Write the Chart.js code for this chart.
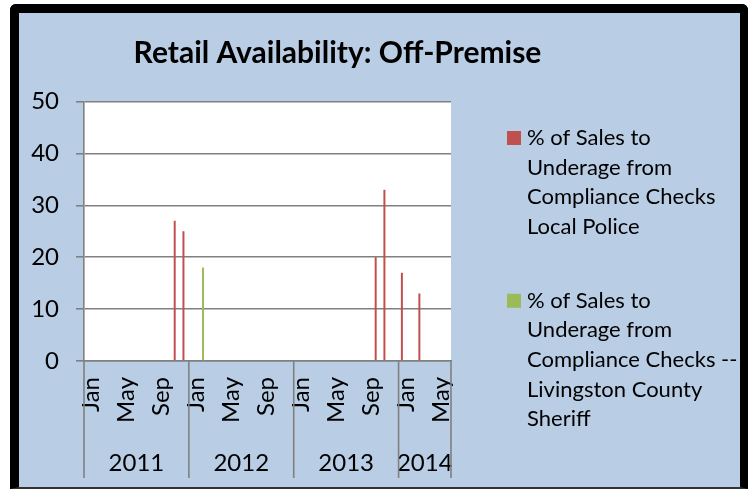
<!DOCTYPE html>
<html>
<head>
<meta charset="utf-8">
<script src="https://cdn.jsdelivr.net/npm/chart.js@4.4.0/dist/chart.umd.min.js"></script>
<style>
html,body{margin:0;padding:0;background:#fff;overflow:hidden;width:752px;height:489px;}
#frame{position:absolute;left:10px;top:4px;width:721px;height:474px;background:#b9cde5;
  border:9px solid #000;border-right-width:8px;border-bottom:2px solid #333;border-radius:6px 6px 0 0;}
#chart{position:absolute;left:0;top:0;}
</style>
</head>
<body>
<div id="frame"></div>
<canvas id="chart" width="752" height="489"></canvas>
<script>
const years = ['2011', '2012', '2013', '2014'];
const monthsPerYear = [12, 12, 12, 6];
const monthNames = ['Jan','Feb','Mar','Apr','May','Jun','Jul','Aug','Sep','Oct','Nov','Dec'];
const shownMonths = ['Jan', 'May', 'Sep'];
const yTicks = [0, 10, 20, 30, 40, 50];

// % of sales to underage, one value per month (null = no check)
const localPolice = [
  null,null,null,null,null,null,null,null,null,null,27,25,   // 2011
  null,null,null,null,null,null,null,null,null,null,null,null, // 2012
  null,null,null,null,null,null,null,null,null,20,33,null,   // 2013
  17,null,13,null,null,null                                  // 2014
];
const countySheriff = [
  null,null,null,null,null,null,null,null,null,null,null,null,
  null,18,null,null,null,null,null,null,null,null,null,null,
  null,null,null,null,null,null,null,null,null,null,null,null,
  null,null,null,null,null,null
];
const seriesNames = [
  ['% of Sales to', 'Underage from', 'Compliance Checks', 'Local Police'],
  ['% of Sales to', 'Underage from', 'Compliance Checks --', 'Livingston County', 'Sheriff']
];
const seriesColors = ['#c0504d', '#9bbb59'];
const titleText = 'Retail Availability: Off-Premise';

const labels = [];
years.forEach((y, i) => {
  for (let m = 0; m < monthsPerYear[i]; m++) labels.push(monthNames[m] + ' ' + y);
});

const FONT = 'Lato';
const GRID = '#808080';

const plotBg = {
  id: 'plotBg',
  beforeDraw(chart) {
    const {ctx, chartArea: a} = chart;
    ctx.save();
    ctx.fillStyle = '#fff';
    ctx.fillRect(a.left, a.top, a.right - a.left, a.bottom - a.top);
    ctx.restore();
  }
};

const titleDraw = {
  id: 'titleDraw',
  afterDraw(chart) {
    const ctx = chart.ctx;
    ctx.save();
    ctx.font = 'bold 30px ' + FONT;
    ctx.fillStyle = '#000';
    ctx.textAlign = 'center';
    ctx.textBaseline = 'alphabetic';
    ctx.fillText(titleText, 337.5, 63);
    ctx.restore();
  }
};

const legendDraw = {
  id: 'legendDraw',
  afterDraw(chart) {
    const ctx = chart.ctx;
    const lineH = 29.6;
    let y = 138;
    ctx.save();
    ctx.font = '22px ' + FONT;
    ctx.textBaseline = 'middle';
    chart.data.datasets.forEach((ds, i) => {
      ctx.fillStyle = ds.backgroundColor;
      ctx.fillRect(507, y - 7, 14, 14);
      ctx.fillStyle = '#000';
      seriesNames[i].forEach((ln, k) => ctx.fillText(ln, 527, y + k * lineH));
      y += (seriesNames[i].length + 1.5) * lineH;
    });
    ctx.restore();
  }
};

const yearGroups = {
  id: 'yearGroups',
  afterDraw(chart) {
    const {ctx, chartArea: a} = chart;
    const xs = chart.scales.x;
    const half = (xs.getPixelForValue(1) - xs.getPixelForValue(0)) / 2;
    ctx.save();
    ctx.strokeStyle = GRID;
    ctx.lineWidth = 1.6;
    ctx.font = '24px ' + FONT;
    ctx.fillStyle = '#000';
    ctx.textAlign = 'center';
    ctx.textBaseline = 'middle';
    let start = 0;
    const edges = [a.left];
    years.forEach((y, i) => {
      const end = start + monthsPerYear[i] - 1;
      const x0 = xs.getPixelForValue(start) - half;
      const x1 = xs.getPixelForValue(end) + half;
      edges.push(x1);
      ctx.fillText(y, (x0 + x1) / 2, 463);
      start = end + 1;
    });
    edges.forEach(x => {
      ctx.beginPath();
      ctx.moveTo(x, a.bottom);
      ctx.lineTo(x, 478);
      ctx.stroke();
    });
    ctx.restore();
  }
};

new Chart(document.getElementById('chart'), {
  type: 'bar',
  data: {
    labels: labels,
    datasets: [
      {label: seriesNames[0].join(' '), data: localPolice, backgroundColor: seriesColors[0]},
      {label: seriesNames[1].join(' '), data: countySheriff, backgroundColor: seriesColors[1]}
    ]
  },
  options: {
    responsive: false,
    animation: false,
    devicePixelRatio: 1,
    categoryPercentage: 0.48,
    barPercentage: 0.95,
    layout: {padding: {left: 0, top: 101.5, right: 301, bottom: 0}},
    plugins: {legend: {display: false}, title: {display: false}, tooltip: {enabled: false}},
    scales: {
      x: {
        grid: {display: false, drawTicks: false},
        border: {display: true, color: GRID, width: 1.6},
        ticks: {
          autoSkip: false, maxRotation: 90, minRotation: 90, padding: 16, labelOffset: 3,
          color: '#000', font: {family: FONT, size: 24},
          callback: function (v) {
            const m = this.getLabelForValue(v).split(' ')[0];
            return shownMonths.includes(m) ? m : '';
          }
        },
        afterFit(s) { s.height = 128; }
      },
      y: {
        min: yTicks[0], max: yTicks[yTicks.length - 1],
        afterBuildTicks(s) { s.ticks = yTicks.map(v => ({value: v})); },
        grid: {color: GRID, lineWidth: 1.6, tickLength: 8},
        border: {color: GRID, width: 1.6},
        ticks: {padding: 17, color: '#000', font: {family: FONT, size: 24}},
        afterFit(s) { s.width = 84; }
      }
    }
  },
  plugins: [plotBg, titleDraw, legendDraw, yearGroups]
});
</script>
</body>
</html>
